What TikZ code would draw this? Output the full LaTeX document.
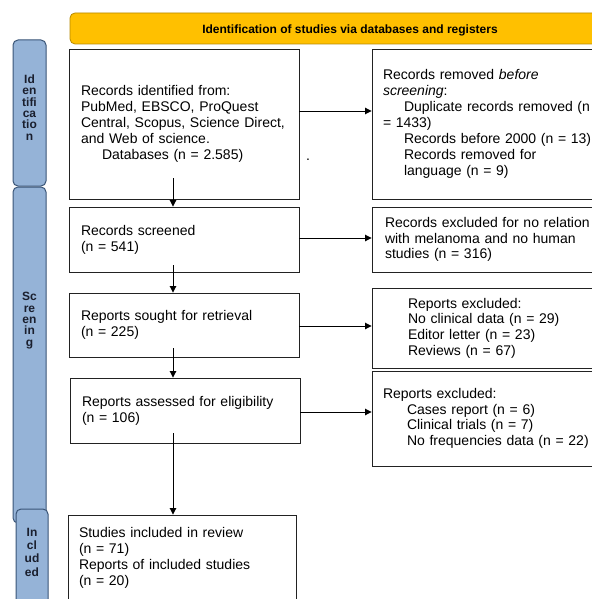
\documentclass[tikz,border=0pt]{standalone}
\usepackage{fontspec}
\setmainfont{Liberation Sans}
\usetikzlibrary{arrows.meta}
\definecolor{gold}{HTML}{FFC000}
\definecolor{goldline}{HTML}{B88A00}
\definecolor{sideblue}{HTML}{95B3D7}
\definecolor{sideline}{HTML}{3A5577}
\definecolor{boxline}{HTML}{222222}
\definecolor{sidetextcol}{HTML}{1A1F2E}
\tikzset{
  box/.style={draw=boxline, line width=0.9pt, inner xsep=12pt, inner ysep=0pt,
    align=left, font=\fontsize{14}{16}\selectfont},
  rbox/.style={box, inner xsep=11pt, font=\fontsize{14}{15.6}\selectfont},
  side/.style={draw=sideline, fill=sideblue, line width=1pt, rounded corners=5pt, inner sep=0pt},
  sidetext/.style={align=center, inner sep=0pt, text=sidetextcol, font=\bfseries\fontsize{12}{11.4}\selectfont},
  arr/.style={-{Triangle[length=6.5pt,width=6.5pt]}, line width=0.9pt, draw=black},
  banner/.style={draw=goldline, fill=gold, line width=0.8pt, rounded corners=5pt, inner sep=0pt},
  bannertext/.style={inner sep=0pt, font=\bfseries\fontsize{12}{14}\selectfont}
}
\begin{document}
\begin{tikzpicture}[x=1pt,y=-1pt]
\useasboundingbox (0,0) rectangle (591,599);
\fill[white] (0,0) rectangle (591,599);

% banner
\node[banner, minimum width=560, minimum height=31] (ban) at (350,28.5) {};
\node[bannertext] (bant) at (350,30.5) {Identification of studies via databases and registers};

% side bars
\node[side, minimum width=33, minimum height=146] (sid) at (29.5,113) {};
\node[side, minimum width=33, minimum height=336] (sscr) at (29.5,355) {};
\node[side, minimum width=32, minimum height=101] (sinc) at (32,559.5) {};
\node[sidetext] (tid) at (29.5,107.5) {Id\\en\\tifi\\ca\\tio\\n};
\node[sidetext] (tscr) at (29.5,320.5) {Sc\\re\\en\\in\\g};
\node[sidetext, font=\bfseries\fontsize{12}{13.3}\selectfont] (tinc) at (32,552) {In\\cl\\ud\\ed};

% left column
\node[box, minimum width=230, minimum height=150, text width=206] (b1) at (184,124)
  {Records identified from:\\PubMed, EBSCO, ProQuest\\Central, Scopus, Science Direct,\\and Web of science.\\\hspace*{21pt}Databases (n = 2.585)};
\node[box, minimum width=230, minimum height=65, text width=206] (b2) at (184,239.5)
  {Records screened\\(n = 541)};
\node[box, minimum width=230, minimum height=64, text width=206] (b3) at (184,325)
  {Reports sought for retrieval\\(n = 225)};
\node[box, minimum width=230, minimum height=65, text width=206] (b4) at (185,410.5)
  {Reports assessed for eligibility\\(n = 106)};
\node[box, inner xsep=11pt, minimum width=228, minimum height=86, text width=206] (b5) at (182,558)
  {Studies included in review\\(n = 71)\\Reports of included studies\\(n = 20)};

% right column
\node[rbox, font=\fontsize{14}{16.1}\selectfont, minimum width=238, minimum height=150, text width=216] (r1) at (491,124)
  {Records removed \textit{before}\\\textit{screening}:\\\hspace*{21pt}Duplicate records removed (n\\= 1433)\\\hspace*{21pt}Records before 2000 (n =  13)\\\hspace*{21pt}Records removed for\\\hspace*{21pt}language (n = 9)};
\node[rbox, inner xsep=13pt, minimum width=238, minimum height=65, text width=212] (r2) at (491,239.5)
  {Records excluded for no relation\\with melanoma and no human\\studies (n = 316)};
\node[rbox, minimum width=238, minimum height=80, text width=216] (r3) at (491,328)
  {\hspace*{25pt}Reports excluded:\\\hspace*{25pt}No clinical data (n = 29)\\\hspace*{25pt}Editor letter (n = 23)\\\hspace*{25pt}Reviews (n = 67)};
\node[rbox, minimum width=238, minimum height=95, text width=216] (r4) at (491,418.5)
  {Reports excluded:\\\hspace*{24pt}Cases report (n = 6)\\\hspace*{24pt}Clinical trials (n = 7)\\\hspace*{24pt}No frequencies data (n = 22)};

% stray dot
\node[inner sep=0pt, font=\fontsize{14}{16}\selectfont] (dot) at (308,160) {.};

% vertical arrows
\coordinate (v1) at (173,178);
\coordinate (v2) at (173,265);
\coordinate (v3) at (173,348);
\coordinate (v4) at (173,433);
\draw[arr] (v1) -- (v1 |- b2.north);
\draw[arr] (v2) -- (v2 |- b3.north);
\draw[arr] (v3) -- (v3 |- b4.north);
\draw[arr] (v4) -- (v4 |- b5.north);

% horizontal arrows
\draw[arr] (b1.east |- 0,111) -- (r1.west |- 0,111);
\draw[arr] (b2.east |- 0,238) -- (r2.west |- 0,238);
\draw[arr] (b3.east |- 0,326) -- (r3.west |- 0,326);
\draw[arr] (b4.east |- 0,412) -- (r4.west |- 0,412);
\end{tikzpicture}
\end{document}
